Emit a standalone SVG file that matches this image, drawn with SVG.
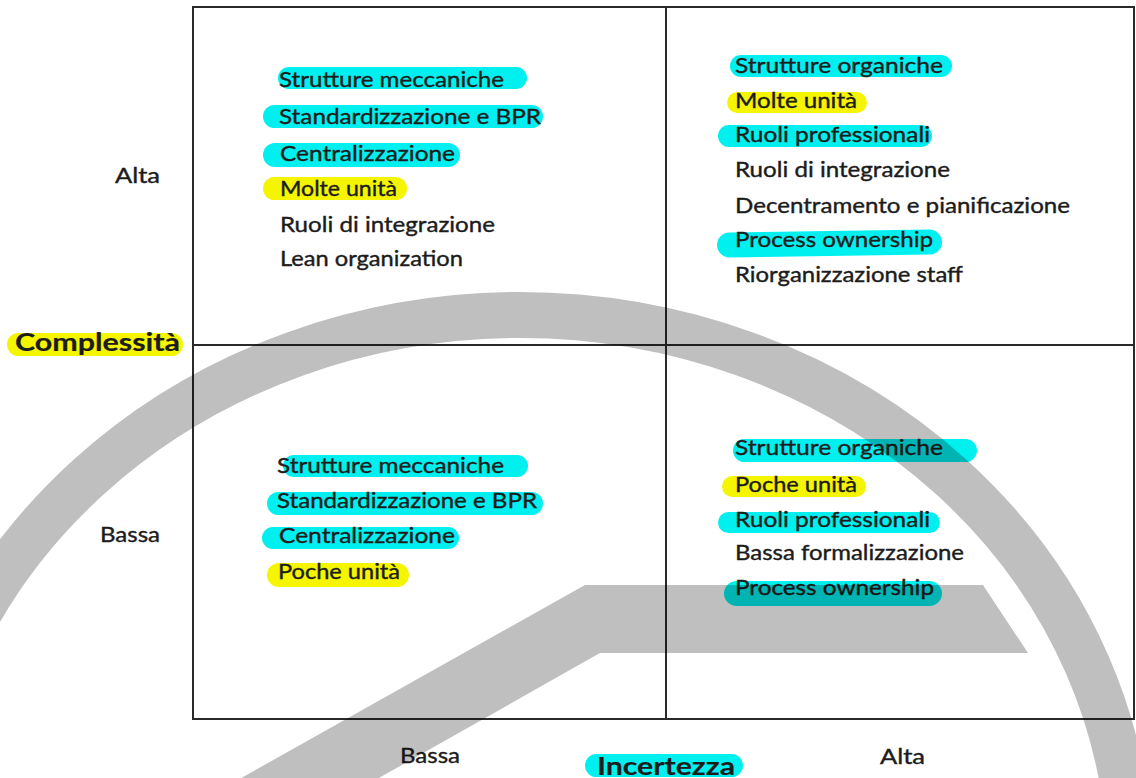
<svg xmlns="http://www.w3.org/2000/svg" width="1136" height="778" viewBox="0 0 1136 778">
  <style>
    .t{font-family:Lato,"Liberation Sans",sans-serif;font-size:22px;fill:#1c1c1c;stroke:#1c1c1c;stroke-width:.4}
    .b{font-weight:bold;font-size:24px;stroke-width:.2}
    .c{fill:#00f0f0}
    .y{fill:#f5f500}
    .grid{fill:none;stroke:#2a2a2a;stroke-width:2}
    .mark{fill:#000;fill-opacity:.25}
    .ring{fill:none;stroke:#000;stroke-opacity:.25;stroke-width:46}
  </style>
  <rect width="1136" height="778" fill="#fff"/>

  <!-- matrix frame and dividers -->
  <g id="grid">
    <rect class="grid" x="193" y="7" width="941" height="712"/>
    <line class="grid" x1="666" y1="7" x2="666" y2="719"/>
    <line class="grid" x1="193" y1="345" x2="1134" y2="345"/>
  </g>

  <!-- axis labels -->
  <g id="axis-complessita">
    <rect class="y" x="7" y="333" width="176" height="23" rx="11.5"/>
    <text class="t b" x="15" y="351" textLength="165" lengthAdjust="spacingAndGlyphs">Complessità</text>
    <text class="t" x="115" y="183" textLength="45" lengthAdjust="spacingAndGlyphs">Alta</text>
    <text class="t" x="100" y="542" textLength="60" lengthAdjust="spacingAndGlyphs">Bassa</text>
  </g>
  <g id="axis-incertezza">
    <rect class="c" x="585" y="754" width="158" height="23" rx="11.5"/>
    <text class="t b" x="597" y="775" textLength="138" lengthAdjust="spacingAndGlyphs">Incertezza</text>
    <text class="t" x="400" y="763" textLength="60" lengthAdjust="spacingAndGlyphs">Bassa</text>
    <text class="t" x="880" y="764" textLength="45" lengthAdjust="spacingAndGlyphs">Alta</text>
  </g>

  <!-- high complexity, low uncertainty -->
  <g id="q-alta-bassa">
    <rect class="c" x="278" y="67" width="249" height="22" rx="11"/>
    <rect class="c" x="263" y="105" width="280" height="23" rx="11.5"/>
    <rect class="c" x="263" y="143" width="197" height="24" rx="12"/>
    <rect class="y" x="263" y="177" width="144" height="23" rx="11.5"/>
    <text class="t" x="279" y="87" textLength="225" lengthAdjust="spacingAndGlyphs">Strutture meccaniche</text>
    <text class="t" x="279" y="124" textLength="262" lengthAdjust="spacingAndGlyphs">Standardizzazione e BPR</text>
    <text class="t" x="280" y="161" textLength="175" lengthAdjust="spacingAndGlyphs">Centralizzazione</text>
    <text class="t" x="280" y="196" textLength="117" lengthAdjust="spacingAndGlyphs">Molte unità</text>
    <text class="t" x="280" y="232" textLength="215" lengthAdjust="spacingAndGlyphs">Ruoli di integrazione</text>
    <text class="t" x="280" y="266" textLength="183" lengthAdjust="spacingAndGlyphs">Lean organization</text>
  </g>

  <!-- high complexity, high uncertainty -->
  <g id="q-alta-alta">
    <rect class="c" x="730" y="55" width="222" height="22" rx="11"/>
    <rect class="y" x="727" y="92" width="140" height="21" rx="10.5"/>
    <rect class="c" x="718" y="125" width="214" height="22" rx="11"/>
    <rect class="c" x="717" y="231" width="225" height="25" rx="12.5" transform="rotate(-0.8 830 243)"/>
    <text class="t" x="735" y="73" textLength="208" lengthAdjust="spacingAndGlyphs">Strutture organiche</text>
    <text class="t" x="735" y="108" textLength="122" lengthAdjust="spacingAndGlyphs">Molte unità</text>
    <text class="t" x="735" y="142" textLength="195" lengthAdjust="spacingAndGlyphs">Ruoli professionali</text>
    <text class="t" x="735" y="177" textLength="215" lengthAdjust="spacingAndGlyphs">Ruoli di integrazione</text>
    <text class="t" x="735" y="213" textLength="335" lengthAdjust="spacingAndGlyphs">Decentramento e pianificazione</text>
    <text class="t" x="735" y="247" textLength="198" lengthAdjust="spacingAndGlyphs">Process ownership</text>
    <text class="t" x="735" y="282" textLength="228" lengthAdjust="spacingAndGlyphs">Riorganizzazione staff</text>
  </g>

  <!-- low complexity, low uncertainty -->
  <g id="q-bassa-bassa">
    <rect class="c" x="283" y="455" width="245" height="22" rx="11"/>
    <rect class="c" x="267" y="492" width="276" height="23" rx="11.5"/>
    <rect class="c" x="262" y="527" width="197" height="22" rx="11"/>
    <rect class="y" x="267" y="563" width="142" height="24" rx="12"/>
    <text class="t" x="277" y="473" textLength="227" lengthAdjust="spacingAndGlyphs">Strutture meccaniche</text>
    <text class="t" x="277" y="508" textLength="260" lengthAdjust="spacingAndGlyphs">Standardizzazione e BPR</text>
    <text class="t" x="279" y="543" textLength="176" lengthAdjust="spacingAndGlyphs">Centralizzazione</text>
    <text class="t" x="278" y="579" textLength="122" lengthAdjust="spacingAndGlyphs">Poche unità</text>
  </g>

  <!-- low complexity, high uncertainty -->
  <g id="q-bassa-alta">
    <rect class="c" x="733" y="439" width="244" height="23" rx="11.5"/>
    <rect class="y" x="722" y="476" width="144" height="21" rx="10.5"/>
    <rect class="c" x="718" y="512" width="222" height="21" rx="10.5"/>
    <rect class="c" x="724" y="581" width="218" height="25" rx="12.5"/>
    <text class="t" x="735" y="455" textLength="208" lengthAdjust="spacingAndGlyphs">Strutture organiche</text>
    <text class="t" x="735" y="492" textLength="122" lengthAdjust="spacingAndGlyphs">Poche unità</text>
    <text class="t" x="735" y="527" textLength="195" lengthAdjust="spacingAndGlyphs">Ruoli professionali</text>
    <text class="t" x="735" y="560" textLength="229" lengthAdjust="spacingAndGlyphs">Bassa formalizzazione</text>
    <text class="t" x="735" y="595" textLength="199" lengthAdjust="spacingAndGlyphs">Process ownership</text>
  </g>

  <!-- translucent grey emblem laid over the chart -->
  <g id="emblem">
    <ellipse class="ring" cx="520" cy="868" rx="610" ry="553"/>
    <polygon class="mark" points="585,585 983,585 1028,653 600,653 340,800 202,800"/>
  </g>
</svg>
